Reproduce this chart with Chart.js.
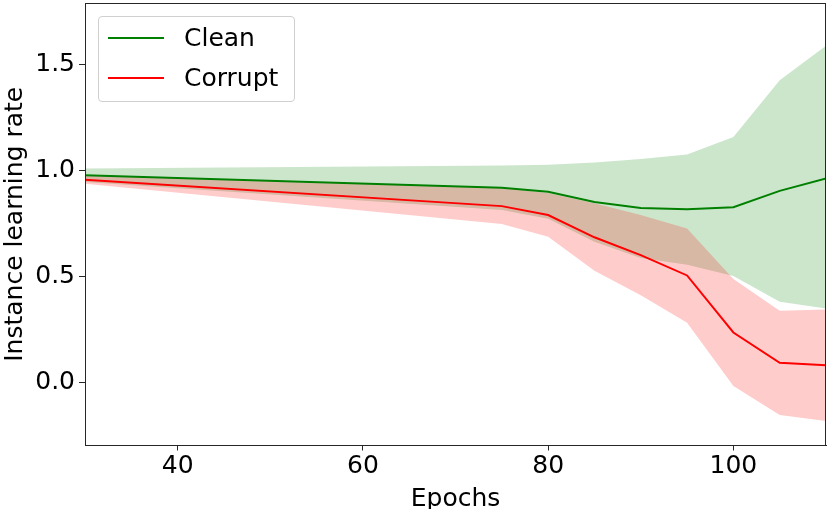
<!DOCTYPE html>
<html>
<head>
<meta charset="utf-8">
<script src="https://cdn.jsdelivr.net/npm/chart.js@4"></script>
<style>
  body { margin: 0; background: #fff; }
  .wrap { position: relative; width: 831px; height: 509px; overflow: hidden; }
  .legend {
    position: absolute; left: 98px; top: 16px; width: 195px; height: 84px;
    border: 1px solid #d0d0d0; border-radius: 4px; background: rgba(255,255,255,0.8);
    font-family: "DejaVu Sans", sans-serif; font-size: 25px; color: #000;
  }
  .legend .row { position: absolute; left: 0; height: 30px; line-height: 30px; }
  .legend .swatch { position: absolute; left: 9px; width: 56px; height: 2px; top: 14px; }
  .legend .label { position: absolute; left: 85px; top: 0; white-space: nowrap; }
</style>
</head>
<body>
<div class="wrap">
  <canvas id="chart" width="831" height="509"></canvas>
  <div class="legend" id="legend"></div>
</div>
<script>
const epochs = [30, 75, 80, 85, 90, 95, 100, 105, 110];

const cleanMean = [0.976, 0.917, 0.898, 0.849, 0.821, 0.815, 0.825, 0.902, 0.961];
const cleanUpper = [1.008, 1.022, 1.025, 1.036, 1.052, 1.073, 1.156, 1.424, 1.586];
const cleanLower = [0.944, 0.812, 0.771, 0.662, 0.585, 0.553, 0.5, 0.379, 0.347];

const corruptMean = [0.954, 0.83, 0.788, 0.683, 0.599, 0.503, 0.234, 0.091, 0.079];
const corruptUpper = [0.975, 0.915, 0.892, 0.843, 0.788, 0.725, 0.486, 0.336, 0.343];
const corruptLower = [0.935, 0.746, 0.685, 0.525, 0.41, 0.28, -0.018, -0.155, -0.183];

const xTicks = [40, 60, 80, 100];
const yTicks = [0, 0.5, 1.0, 1.5];

const toPoints = (values) => values.map((v, i) => ({ x: epochs[i], y: v }));

const font = "DejaVu Sans";
const spineColor = "#262626";

// matplotlib style box around the whole axes
const spines = {
  id: "spines",
  afterDatasetsDraw(chart) {
    const { ctx, chartArea } = chart;
    ctx.save();
    ctx.strokeStyle = spineColor;
    ctx.lineWidth = 1;
    ctx.strokeRect(
      Math.round(chartArea.left) + 0.5,
      Math.round(chartArea.top) + 0.5,
      Math.round(chartArea.right - chartArea.left) - 1,
      Math.round(chartArea.bottom - chartArea.top) - 1
    );
    ctx.restore();
  },
};

const band = (values, color, fill, order) => ({
  data: toPoints(values),
  borderWidth: 0,
  pointRadius: 0,
  backgroundColor: color,
  fill: fill,
  order: order,
  showLine: true,
});

const line = (label, values, color, order) => ({
  label: label,
  data: toPoints(values),
  borderColor: color,
  borderWidth: 2,
  pointRadius: 0,
  fill: false,
  order: order,
});

const chart = new Chart(document.getElementById("chart"), {
  type: "line",
  data: {
    datasets: [
      band(cleanLower, "rgba(0, 128, 0, 0.2)", false, 6),
      band(cleanUpper, "rgba(0, 128, 0, 0.2)", "-1", 5),
      band(corruptLower, "rgba(255, 0, 0, 0.2)", false, 4),
      band(corruptUpper, "rgba(255, 0, 0, 0.2)", "-1", 3),
      line("Clean", cleanMean, "green", 2),
      line("Corrupt", corruptMean, "red", 1),
    ],
  },
  options: {
    responsive: false,
    animation: false,
    events: [],
    layout: { padding: { left: 0, right: 5, top: 3, bottom: 0 } },
    plugins: {
      legend: { display: false },
      tooltip: { enabled: false },
    },
    scales: {
      x: {
        type: "linear",
        min: 30,
        max: 110,
        afterBuildTicks: (scale) => {
          scale.ticks = xTicks.map((v) => ({ value: v }));
        },
        afterFit: (scale) => {
          scale.height = 63.5;
          scale.paddingLeft = 0;
          scale.paddingRight = 0;
        },
        grid: {
          drawOnChartArea: false,
          tickLength: 5,
          tickColor: spineColor,
        },
        border: { color: spineColor, width: 1 },
        ticks: {
          padding: 1,
          maxRotation: 0,
          color: "#000",
          font: { family: font, size: 25 },
        },
        title: {
          display: true,
          text: "Epochs",
          color: "#000",
          padding: { top: 0, bottom: -3 },
          font: { family: font, size: 25, lineHeight: 1 },
        },
      },
      y: {
        min: -0.299,
        max: 1.788,
        afterBuildTicks: (scale) => {
          scale.ticks = yTicks.map((v) => ({ value: v }));
        },
        afterFit: (scale) => {
          scale.width = 85;
          scale.paddingTop = 0;
          scale.paddingBottom = 0;
        },
        grid: {
          drawOnChartArea: false,
          tickLength: 6,
          tickColor: spineColor,
        },
        border: { color: spineColor, width: 1 },
        ticks: {
          padding: 4,
          color: "#000",
          font: { family: font, size: 25 },
          callback: (v) => v.toFixed(1),
        },
        title: {
          display: true,
          text: "Instance learning rate",
          color: "#000",
          padding: 0,
          font: { family: font, size: 25, lineHeight: 1.2 },
        },
      },
    },
  },
  plugins: [spines],
});

// legend drawn as html, inside the axes like matplotlib's upper left legend
const legendEl = document.getElementById("legend");
chart.data.datasets
  .filter((ds) => ds.label)
  .forEach((ds, i) => {
    const row = document.createElement("div");
    row.className = "row";
    row.style.top = 6 + i * 39.6 + "px";
    row.innerHTML =
      '<span class="swatch" style="background:' + ds.borderColor + '"></span>' +
      '<span class="label">' + ds.label + "</span>";
    legendEl.appendChild(row);
  });
</script>
</body>
</html>
